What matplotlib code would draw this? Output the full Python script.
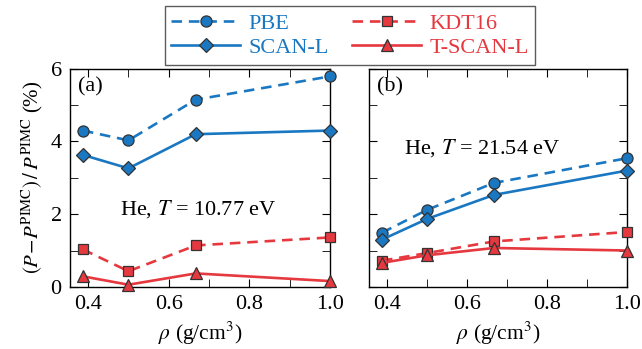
import numpy as np
import matplotlib
matplotlib.use("Agg")
import matplotlib.pyplot as plt
from matplotlib.ticker import MultipleLocator

plt.rcParams["font.family"] = "Liberation Serif"
plt.rcParams["mathtext.fontset"] = "stix"

# densities (g/cm^3)
rho = [0.387, 0.5, 0.667, 1.0]

# panel (a): He, T = 10.77 eV
pbe_a = [4.30, 4.03, 5.15, 5.79]
scanl_a = [3.63, 3.26, 4.20, 4.30]
kdt16_a = [1.03, 0.43, 1.14, 1.36]
tscanl_a = [0.29, 0.06, 0.37, 0.16]

# panel (b): He, T = 21.54 eV
pbe_b = [1.49, 2.12, 2.86, 3.54]
scanl_b = [1.30, 1.87, 2.53, 3.20]
kdt16_b = [0.72, 0.93, 1.25, 1.51]
tscanl_b = [0.66, 0.87, 1.07, 1.00]

labels = ["PBE", "SCAN-L", "KDT16", "T-SCAN-L"]

BLUE = "#1a78c2"
RED = "#e5383f"
EDGE = "#333333"
DASH = (0, (4.0, 2.6))
styles = [
    dict(color=BLUE, ls=DASH, marker="o", ms=8),
    dict(color=BLUE, ls="-", marker="D", ms=7),
    dict(color=RED, ls=DASH, marker="s", ms=7),
    dict(color=RED, ls="-", marker="^", ms=8),
]

fig = plt.figure(figsize=(6.42, 3.49), dpi=100)
ax_a = fig.add_axes([0.109, 0.178, 0.405, 0.625])
ax_b = fig.add_axes([0.575, 0.178, 0.402, 0.625])

handles = []
for ax, data in [(ax_a, [pbe_a, scanl_a, kdt16_a, tscanl_a]),
                 (ax_b, [pbe_b, scanl_b, kdt16_b, tscanl_b])]:
    for vals, st, lab in zip(data, styles, labels):
        h, = ax.plot(rho, vals, color=st["color"], ls=st["ls"], lw=1.9,
                     marker=st["marker"], ms=st["ms"], mfc=st["color"],
                     mec=EDGE, mew=0.9, clip_on=False, zorder=3, label=lab)
        if ax is ax_a:
            handles.append(h)
    ax.set_xlim(0.355, 1.0)
    ax.set_ylim(0, 6)
    ax.set_xticks([0.4, 0.6, 0.8, 1.0])
    ax.set_xticklabels(["0.4", "0.6", "0.8", "1.0"])
    ax.xaxis.set_minor_locator(MultipleLocator(0.1))
    ax.yaxis.set_major_locator(MultipleLocator(2))
    ax.yaxis.set_minor_locator(MultipleLocator(1))
    ax.tick_params(which="both", direction="in", top=True, right=True,
                   labelsize=16, pad=6, length=6)
    ax.set_xlabel(r"$\rho$ (g/cm$^3$)", fontsize=15.5)
    for sp in ax.spines.values():
        sp.set_linewidth(1.0)

ax_b.tick_params(labelleft=False)

ax_a.set_ylabel(r"$(P\!-\!P^{\rm PIMC})\,/\,P^{\rm PIMC}$ (%)", fontsize=15)

ax_a.text(0.03, 0.96, "(a)", transform=ax_a.transAxes, fontsize=16,
          va="top", ha="left")
ax_b.text(0.03, 0.96, "(b)", transform=ax_b.transAxes, fontsize=16,
          va="top", ha="left")
ax_a.text(0.479, 2.15, r"He, $T$ = 10.77 eV", fontsize=16, va="center")
ax_b.text(0.442, 3.82, r"He, $T$ = 21.54 eV", fontsize=16, va="center")

leg = fig.legend(handles=handles, ncol=2, loc="upper center",
                 bbox_to_anchor=(0.545, 0.982), borderaxespad=0,
                 fontsize=16, frameon=True,
                 fancybox=False, edgecolor="#333333", handlelength=3.1,
                 columnspacing=1.05, handletextpad=0.37, borderpad=0.3,
                 labelspacing=0.18)
leg.get_frame().set_linewidth(1.0)
for txt, st in zip(leg.get_texts(), styles):
    txt.set_color(st["color"])

fig.savefig("out.png", dpi=100)
